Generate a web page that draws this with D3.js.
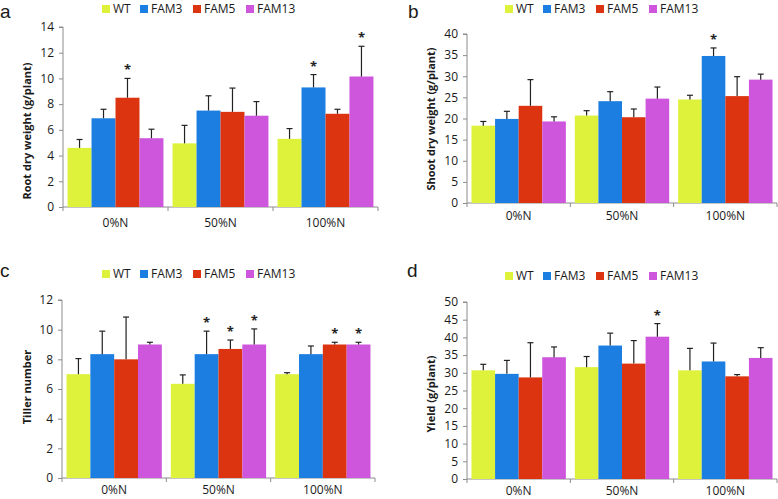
<!DOCTYPE html>
<html><head><meta charset="utf-8">
<script src="https://cdn.jsdelivr.net/npm/d3@7"></script>
<style>body{margin:0;background:#fff;}svg{display:block;}</style>
</head><body><svg id="c" width="778" height="499"></svg>
<script>
const categories = ["0%N", "50%N", "100%N"];
const seriesNames = ["WT", "FAM3", "FAM5", "FAM13"];
const colors = ["#def23c", "#1c7ee0", "#dc3410", "#cd56dc"];

// Panel a: Root dry weight
const rootMean = [[4.6, 4.95, 5.3], [6.9, 7.5, 9.3], [8.5, 7.4, 7.25], [5.35, 7.1, 10.15]];
const rootErr  = [[0.65, 1.4, 0.8], [0.7, 1.15, 1.0], [1.5, 1.85, 0.35], [0.7, 1.1, 2.35]];
const rootStar = [[0,0,0],[0,0,1],[1,0,0],[0,0,1]];
const rootTicks = [0, 2, 4, 6, 8, 10, 12, 14];

// Panel b: Shoot dry weight
const shootMean = [[18.3, 20.7, 24.5], [19.9, 24.1, 34.8], [23.0, 20.3, 25.3], [19.3, 24.7, 29.2]];
const shootErr  = [[1.0, 1.15, 1.0], [1.8, 2.25, 1.9], [6.2, 1.95, 4.6], [1.1, 2.75, 1.3]];
const shootStar = [[0,0,0],[0,0,1],[0,0,0],[0,0,0]];
const shootTicks = [0, 5, 10, 15, 20, 25, 30, 35, 40];

// Panel c: Tiller number
const tillerMean = [[7.0, 6.35, 7.0], [8.35, 8.35, 8.35], [8.0, 8.7, 9.0], [9.0, 9.0, 9.0]];
const tillerErr  = [[1.05, 0.6, 0.1], [1.55, 1.55, 0.55], [2.85, 0.6, 0.15], [0.15, 1.05, 0.15]];
const tillerStar = [[0,0,0],[0,1,0],[0,1,1],[0,1,1]];
const tillerTicks = [0, 2, 4, 6, 8, 10, 12];

// Panel d: Yield
const yieldMean = [[30.7, 31.6, 30.7], [29.7, 37.7, 33.2], [28.7, 32.6, 29.0], [34.4, 40.2, 34.2]];
const yieldErr  = [[1.7, 3.0, 6.2], [3.8, 3.5, 5.2], [9.8, 6.5, 0.5], [2.9, 3.7, 2.9]];
const yieldStar = [[0,0,0],[0,0,0],[0,0,0],[0,1,0]];
const yieldTicks = [0, 5, 10, 15, 20, 25, 30, 35, 40, 45, 50];

const panels = [
  {label:"a", title:"Root  dry weight (g/plant)", mean:rootMean, err:rootErr, star:rootStar, ticks:rootTicks,
   L:63, R:378, T:27, B:207, lx:0, ly:18, legX:102, legY:13, tx:28, ty:131, xly:227},
  {label:"b", title:"Shoot dry weight (g/plant)", mean:shootMean, err:shootErr, star:shootStar, ticks:shootTicks,
   L:467, R:777, T:34, B:203, lx:408, ly:17.5, legX:505, legY:13, tx:432, ty:119, xly:220},
  {label:"c", title:"Tiller number", mean:tillerMean, err:tillerErr, star:tillerStar, ticks:tillerTicks,
   L:62, R:375, T:300, B:478, lx:0, ly:277, legX:102, legY:278, tx:28, ty:387, xly:494},
  {label:"d", title:"Yield (g/plant)", mean:yieldMean, err:yieldErr, star:yieldStar, ticks:yieldTicks,
   L:467, R:777, T:302, B:479, lx:407, ly:277, legX:505, legY:280, tx:432, ty:394, xly:495}
];

const svg = d3.select("#c");
const font = "'Open Sans', 'DejaVu Sans', sans-serif";
const axisCol = "#8c8c8c";

panels.forEach(p => {
  const g = svg.append("g");
  const tmax = p.ticks[p.ticks.length-1];
  const y = d3.scaleLinear().domain([0, tmax]).range([p.B, p.T]);
  const x0 = d3.scaleBand().domain(categories).range([p.L, p.R]).paddingInner(0).paddingOuter(0);
  const x1 = d3.scaleBand().domain(seriesNames).range([0, x0.bandwidth()]).paddingOuter(0.19).paddingInner(0);

  // y axis
  const ya = g.append("g").attr("transform", `translate(${p.L},0)`)
    .call(d3.axisLeft(y).tickValues(p.ticks).tickSize(4).tickPadding(5));
  ya.select(".domain").attr("stroke", axisCol).attr("d", `M-4,${p.T}H0V${p.B}`);
  ya.selectAll(".tick line").attr("stroke", axisCol);
  ya.selectAll("text").attr("font-family", font).attr("font-size", 12).attr("fill", "#1a1a1a");

  // x axis
  const xa = g.append("g").attr("transform", `translate(0,${p.B})`);
  xa.append("line").attr("x1", p.L).attr("x2", p.R).attr("stroke", axisCol);
  const edges = categories.map(c => x0(c)).concat([p.R]);
  xa.selectAll("line.t").data(edges).enter().append("line").attr("class","t")
    .attr("x1", d => d).attr("x2", d => d).attr("y1", 0).attr("y2", 4).attr("stroke", axisCol);
  g.selectAll("text.xl").data(categories).enter().append("text").attr("class","xl")
    .attr("x", d => x0(d) + x0.bandwidth()/2).attr("y", p.xly)
    .attr("text-anchor","middle").attr("font-family", font).attr("font-size", 12).attr("fill","#1a1a1a")
    .text(d => d);

  // bars
  seriesNames.forEach((s, si) => {
    categories.forEach((c, ci) => {
      const v = p.mean[si][ci], e = p.err[si][ci];
      const bx = x0(c) + x1(s), bw = x1.bandwidth();
      g.append("rect").attr("x", bx).attr("y", y(v)).attr("width", bw).attr("height", p.B - y(v))
        .attr("fill", colors[si]);
      const cx = bx + bw/2;
      g.append("line").attr("x1", cx).attr("x2", cx).attr("y1", y(v)).attr("y2", y(v+e))
        .attr("stroke", "#222").attr("stroke-width", 1.2);
      g.append("line").attr("x1", cx-3).attr("x2", cx+3).attr("y1", y(v+e)).attr("y2", y(v+e))
        .attr("stroke", "#222").attr("stroke-width", 1.2);
      if (p.star[si][ci]) {
        g.append("text").attr("x", cx).attr("y", y(v+e) - 4).attr("text-anchor","middle")
          .attr("font-family", font).attr("font-size", 13).attr("font-weight","bold").attr("fill","#222").text("*");
      }
    });
  });

  // y title
  g.append("text").attr("transform", `translate(${p.tx},${p.ty}) rotate(-90)`)
    .attr("text-anchor","middle").attr("dominant-baseline","middle")
    .attr("font-family", font).attr("font-size", 11).attr("font-weight","bold").attr("fill","#1a1a1a")
    .text(p.title);

  // panel label
  g.append("text").attr("x", p.lx).attr("y", p.ly).attr("font-family", "'Liberation Sans', Arial, sans-serif").attr("font-size", 19)
    .attr("fill","#1a1a1a").text(p.label);

  // legend
  const legOff = [0, 38, 91, 144];
  seriesNames.forEach((s, si) => {
    const lx = p.legX + legOff[si];
    g.append("rect").attr("x", lx).attr("y", p.legY - 8).attr("width", 8).attr("height", 8).attr("fill", colors[si]);
    g.append("text").attr("x", lx + 11).attr("y", p.legY).attr("font-family", font).attr("font-size", 12)
      .attr("fill","#1a1a1a").text(s);
  });
});
</script></body></html>
